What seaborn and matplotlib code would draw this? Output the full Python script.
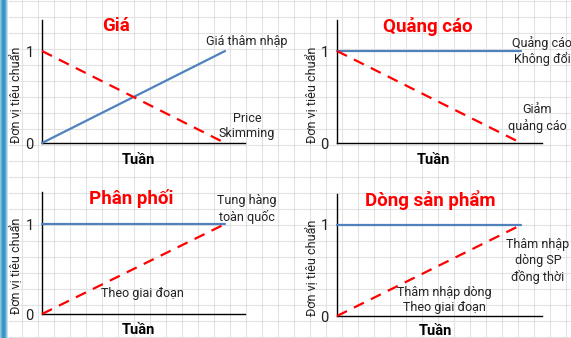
import numpy as np
import matplotlib
matplotlib.use("Agg")
import matplotlib.pyplot as plt
import seaborn as sns

# data
weeks = [0, 1]
panel_titles = ["Giá", "Quảng cáo", "Phân phối", "Dòng sản phẩm"]
blue_values = [[0, 1], [1, 1], [1, 1], [1, 1]]
red_values = [[1, 0], [1, 0], [0, 1], [0, 1]]
y_ticks = [0, 1]
y_tick_labels = ["0", "1"]
x_label = "Tuần"
y_label = "Đơn vị tiêu chuẩn"
blue_notes = ["Giá thâm nhập", "Quảng cáo\nKhông đổi", "Tung hàng\ntoàn quốc", "Thâm nhập\ndòng SP\nđồng thời"]
red_notes = ["Price\nSkimming", "Giảm\nquảng cáo", "Theo giai đoạn", "Thâm nhập dòng\nTheo giai đoạn"]

sns.set_theme(style="white")
plt.rcParams['font.family'] = ['Roboto', 'DejaVu Sans']

W, H = 571, 338
fig = plt.figure(figsize=(W / 100, H / 100), dpi=100)
fig.patch.set_facecolor("white")

# graph paper background + blue edge strip
bg = fig.add_axes([0, 0, 1, 1], zorder=-5)
bg.set_xlim(0, W)
bg.set_ylim(H, 0)
bg.set_xticks(np.arange(6, W, 16))
bg.set_yticks(np.arange(1, H, 16))
bg.grid(True, color="#e2e2e2", linewidth=0.8)
bg.tick_params(length=0, labelbottom=False, labelleft=False)
for s in bg.spines.values():
    s.set_visible(False)
strip = np.array([[0.55, 0.75, 0.95, 1.0, 0.9, 0.6, 0.3, 0.0]])
cmap = matplotlib.colors.LinearSegmentedColormap.from_list("edge", ["white", "#2f93c4"])
bg.imshow(strip, cmap=cmap, aspect="auto", extent=[0, 9, H, 0], vmin=0, vmax=1, zorder=3)


def px(x, y):
    return x / W, 1 - y / H


# (left, top, right, bottom) in pixels, x max, y max
boxes = [(42, 20, 245, 143), (337, 20, 542, 143), (42, 192, 245, 314), (337, 194, 542, 316)]
xmaxs = [1.109, 1.114, 1.109, 1.114]
ymaxs = [1.337, 1.337, 1.356, 1.34]
title_pos = [(116, 26), (428, 26), (131, 199), (430, 200)]
xlabel_pos = [(138, 160), (433, 160), (138, 330), (435, 331)]
ylabel_pos = [(17, 95), (313, 95), (17, 266), (313, 268)]
blue_note_pos = [(247, 42), (542, 51), (247, 209), (538, 261)]
red_note_pos = [(247, 126), (537, 118), (142, 294), (444, 300)]

for i in range(4):
    l, t, r, b = boxes[i]
    ax = fig.add_axes([l / W, 1 - b / H, (r - l) / W, (b - t) / H])
    ax.patch.set_visible(False)
    sns.lineplot(x=weeks, y=blue_values[i], ax=ax, color="#4f81bd", linewidth=1.6, clip_on=False, zorder=3)
    sns.lineplot(x=weeks, y=red_values[i], ax=ax, color="#ff0000", linewidth=1.6, linestyle=(0, (5, 3.5)),
                 clip_on=False, zorder=4)
    ax.set_xlim(0, xmaxs[i])
    ax.set_ylim(0, ymaxs[i])
    ax.set_xticks([])
    ax.set_yticks(y_ticks)
    ax.set_yticklabels(y_tick_labels, fontsize=10.5)
    ax.tick_params(axis="y", length=0, pad=6, colors="#222222")
    ax.set_xlabel("")
    ax.set_ylabel("")
    for side in ["top", "right"]:
        ax.spines[side].set_visible(False)
    for side in ["left", "bottom"]:
        ax.spines[side].set_color("black")
        ax.spines[side].set_linewidth(1.0)

    fig.text(*px(*title_pos[i]), panel_titles[i], color="#ff0000", fontsize=13.5, fontweight="bold",
             ha="center", va="center")
    fig.text(*px(*xlabel_pos[i]), x_label, color="black", fontsize=10.5, fontweight="bold",
             ha="center", va="center")
    fig.text(*px(*ylabel_pos[i]), y_label, color="#222222", fontsize=9, rotation=90,
             ha="center", va="center")
    fig.text(*px(*blue_note_pos[i]), blue_notes[i], color="#222222", fontsize=9,
             ha="center", va="center", linespacing=1.25)
    fig.text(*px(*red_note_pos[i]), red_notes[i], color="#222222", fontsize=9,
             ha="center", va="center", linespacing=1.25)

fig.savefig("out.png", dpi=100)
